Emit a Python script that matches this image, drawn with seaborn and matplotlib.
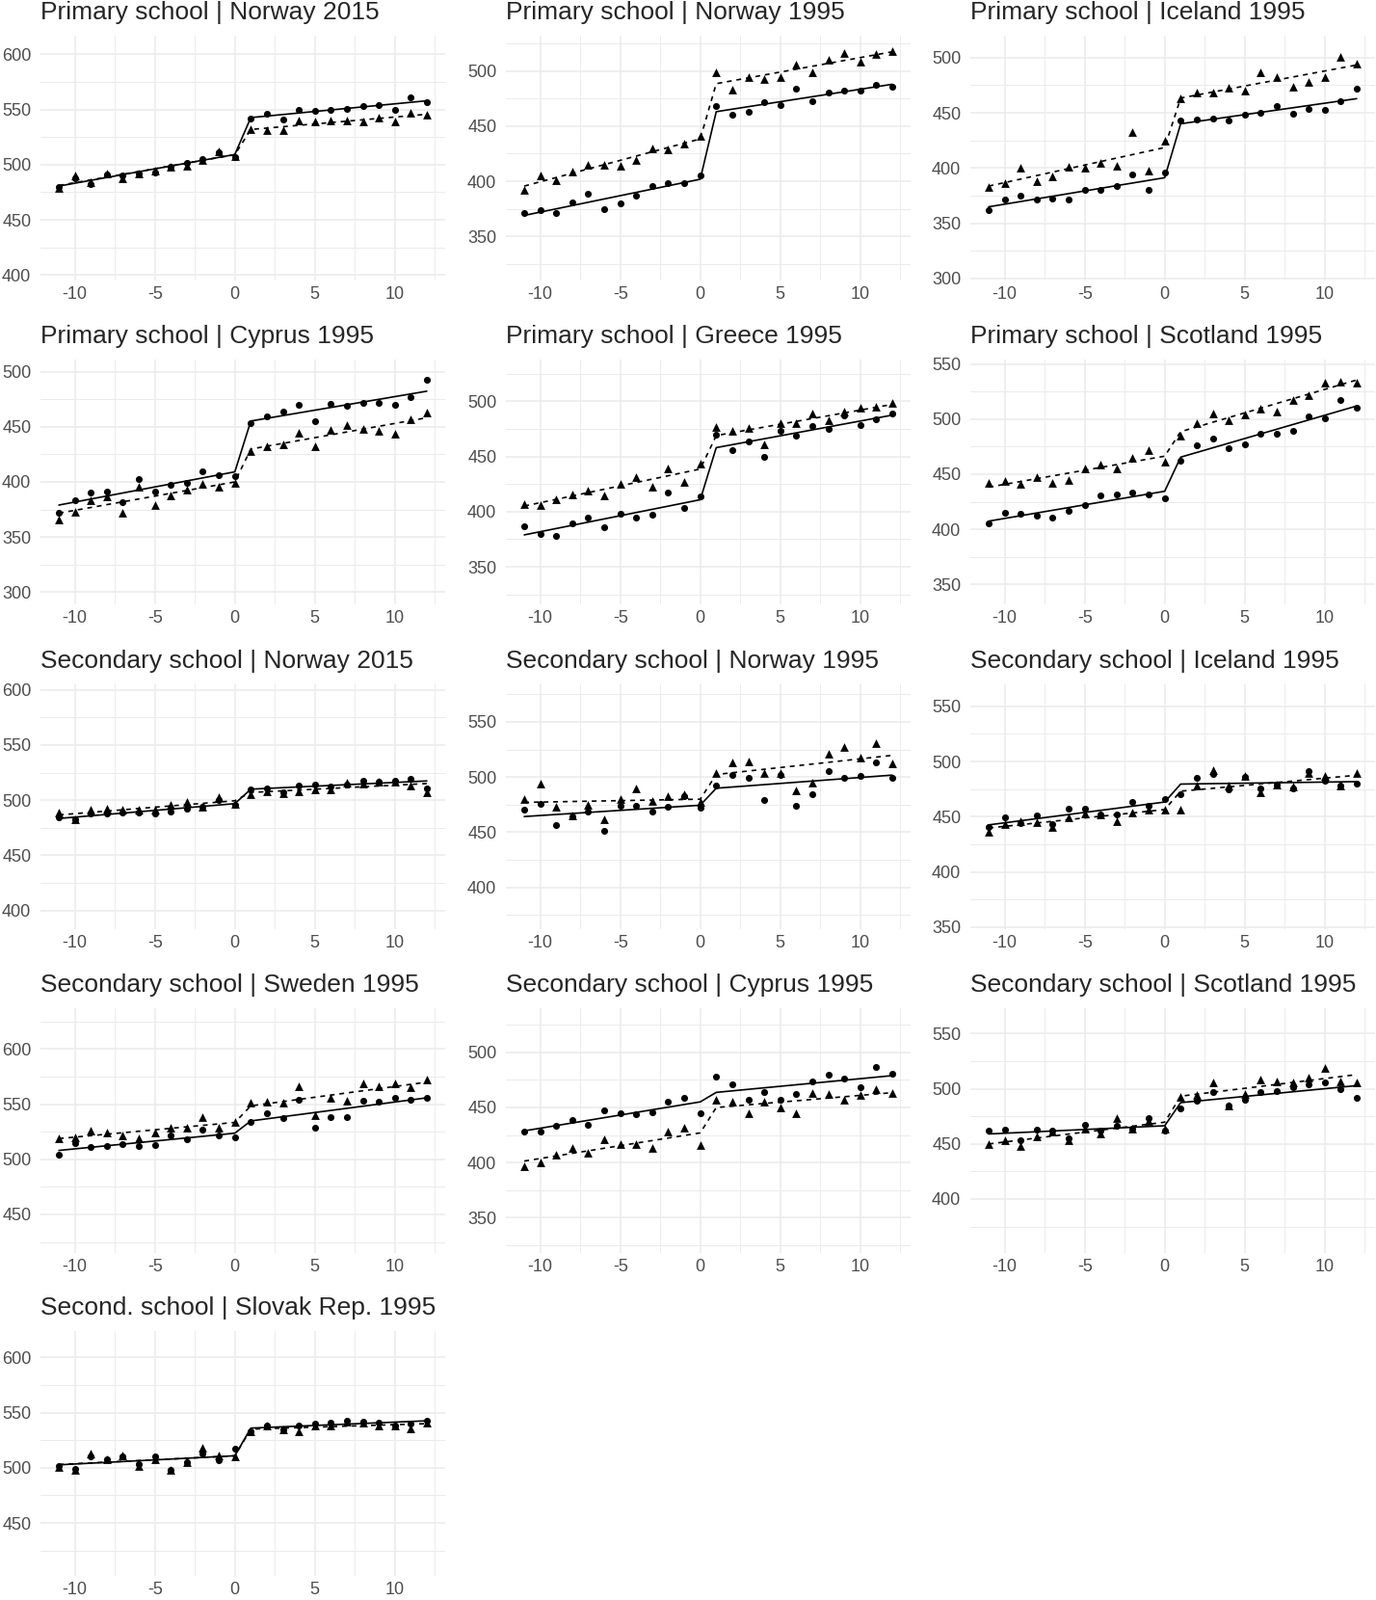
import numpy as np
import pandas as pd
import seaborn as sns
from matplotlib import pyplot as plt
from matplotlib.ticker import MultipleLocator

# running variable (distance to cutoff)
x_vals = list(range(-11, 13))

# circle series (solid fit) and triangle series (dashed fit), one pair per panel
pri_nor15_circ = [480, 488, 482, 491, 490, 492, 493, 498, 502, 505, 511, 507, 542, 546, 541, 550, 549, 550, 551, 553, 554, 550, 561, 557]
pri_nor15_tri = [479, 490, 484, 492, 488, 492, 495, 498, 499, 504, 512, 508, 532, 531, 531, 540, 539, 540, 540, 539, 543, 539, 547, 545]

pri_nor95_circ = [371, 374, 371, 381, 389, 375, 380, 387, 396, 398, 398, 405, 468, 460, 463, 472, 469, 484, 473, 480, 482, 482, 487, 486]
pri_nor95_tri = [392, 405, 401, 409, 415, 415, 414, 419, 430, 429, 434, 441, 499, 483, 494, 493, 494, 506, 499, 510, 516, 508, 515, 518]

pri_ice95_circ = [362, 371, 375, 371, 372, 371, 380, 380, 384, 394, 380, 396, 443, 444, 445, 443, 448, 450, 456, 449, 454, 453, 461, 472]
pri_ice95_tri = [383, 386, 400, 388, 392, 401, 400, 405, 402, 433, 398, 425, 463, 468, 468, 473, 470, 487, 482, 474, 478, 482, 501, 495]

pri_cyp95_circ = [372, 383, 390, 391, 382, 403, 391, 397, 399, 410, 406, 405, 453, 459, 464, 470, 455, 471, 469, 472, 472, 470, 477, 493]
pri_cyp95_tri = [366, 373, 383, 387, 372, 396, 379, 388, 393, 398, 396, 399, 428, 432, 434, 445, 432, 447, 452, 448, 446, 444, 457, 463]

pri_gre95_circ = [387, 380, 378, 389, 395, 386, 398, 395, 397, 417, 403, 414, 470, 456, 464, 450, 473, 469, 478, 475, 487, 479, 484, 489]
pri_gre95_tri = [407, 406, 411, 416, 419, 415, 425, 431, 423, 439, 427, 444, 477, 473, 476, 461, 480, 480, 489, 483, 491, 494, 495, 499]

pri_sco95_circ = [405, 415, 414, 412, 411, 417, 422, 431, 432, 433, 432, 428, 462, 476, 482, 474, 477, 487, 487, 489, 502, 501, 517, 510]
pri_sco95_tri = [442, 444, 441, 447, 442, 445, 455, 459, 455, 465, 472, 461, 485, 496, 505, 499, 504, 509, 507, 517, 522, 533, 534, 533]

sec_nor15_circ = [484, 483, 488, 488, 489, 489, 488, 490, 492, 494, 500, 496, 510, 511, 507, 513, 514, 512, 514, 518, 517, 518, 519, 511]
sec_nor15_tri = [489, 483, 491, 492, 491, 491, 491, 496, 498, 494, 503, 497, 505, 508, 506, 508, 510, 510, 516, 515, 517, 517, 513, 507]

sec_nor95_circ = [470, 476, 456, 464, 469, 451, 474, 474, 469, 473, 483, 472, 492, 502, 499, 479, 502, 474, 484, 505, 499, 501, 513, 499]
sec_nor95_tri = [480, 494, 473, 465, 475, 462, 480, 490, 478, 483, 484, 477, 504, 513, 514, 504, 504, 488, 495, 521, 527, 518, 531, 512]

sec_ice95_circ = [441, 449, 444, 451, 443, 457, 457, 452, 452, 463, 460, 466, 470, 485, 489, 475, 486, 476, 479, 476, 491, 483, 478, 480]
sec_ice95_tri = [436, 443, 446, 445, 441, 449, 453, 452, 446, 454, 456, 456, 456, 478, 492, 478, 487, 472, 479, 477, 490, 487, 478, 490]

sec_swe95_circ = [504, 515, 511, 512, 514, 512, 513, 522, 518, 527, 522, 520, 534, 542, 537, 554, 529, 538, 538, 553, 552, 556, 554, 556]
sec_swe95_tri = [519, 520, 526, 524, 522, 519, 524, 529, 529, 538, 529, 534, 551, 552, 551, 566, 540, 556, 553, 569, 566, 569, 565, 572]

sec_cyp95_circ = [428, 428, 433, 439, 434, 447, 445, 444, 446, 455, 459, 445, 478, 471, 457, 464, 457, 462, 474, 480, 476, 468, 487, 481]
sec_cyp95_tri = [397, 400, 407, 413, 409, 421, 417, 417, 413, 428, 432, 416, 457, 455, 445, 455, 450, 445, 463, 462, 457, 461, 467, 463]

sec_sco95_circ = [462, 463, 453, 463, 462, 455, 467, 462, 466, 464, 473, 462, 482, 489, 497, 485, 490, 497, 498, 501, 504, 506, 500, 492]
sec_sco95_tri = [450, 453, 448, 457, 461, 453, 464, 459, 473, 464, 471, 464, 493, 494, 506, 485, 495, 508, 507, 506, 510, 519, 507, 506]

sec_svk95_circ = [502, 499, 510, 508, 510, 503, 510, 498, 505, 513, 507, 517, 533, 538, 535, 538, 540, 541, 543, 542, 541, 538, 540, 543]
sec_svk95_tri = [501, 498, 513, 508, 511, 502, 508, 498, 505, 518, 511, 510, 533, 538, 535, 533, 538, 538, 542, 541, 538, 538, 536, 541]

titles = [
    'Primary school | Norway 2015', 'Primary school | Norway 1995', 'Primary school | Iceland 1995',
    'Primary school | Cyprus 1995', 'Primary school | Greece 1995', 'Primary school | Scotland 1995',
    'Secondary school | Norway 2015', 'Secondary school | Norway 1995', 'Secondary school | Iceland 1995',
    'Secondary school | Sweden 1995', 'Secondary school | Cyprus 1995', 'Secondary school | Scotland 1995',
    'Second. school | Slovak Rep. 1995',
]
y_tops = [617, 532, 520, 511, 538, 554, 605, 584, 570, 637, 540, 573, 624]

series = [
    (pri_nor15_circ, pri_nor15_tri), (pri_nor95_circ, pri_nor95_tri), (pri_ice95_circ, pri_ice95_tri),
    (pri_cyp95_circ, pri_cyp95_tri), (pri_gre95_circ, pri_gre95_tri), (pri_sco95_circ, pri_sco95_tri),
    (sec_nor15_circ, sec_nor15_tri), (sec_nor95_circ, sec_nor95_tri), (sec_ice95_circ, sec_ice95_tri),
    (sec_swe95_circ, sec_swe95_tri), (sec_cyp95_circ, sec_cyp95_tri), (sec_sco95_circ, sec_sco95_tri),
    (sec_svk95_circ, sec_svk95_tri),
]


def rd_fit(y):
    # separate linear fit on each side of the cutoff
    xs = np.array(x_vals)
    y = np.asarray(y, float)
    fit = np.empty_like(y)
    for m in (xs <= 0, xs > 0):
        b = np.polyfit(xs[m], y[m], 1)
        fit[m] = np.polyval(b, xs[m])
    return fit


def draw_panel(ax, title, circ, tri, top):
    sns.scatterplot(x=x_vals, y=circ, marker='o', s=26, color='black',
                    linewidth=0, ax=ax, zorder=3)
    sns.scatterplot(x=x_vals, y=tri, marker='^', s=40, color='black',
                    linewidth=0, ax=ax, zorder=3)
    sns.lineplot(x=x_vals, y=rd_fit(circ), color='black', lw=1.2,
                 estimator=None, sort=False, ax=ax, zorder=4)
    sns.lineplot(x=x_vals, y=rd_fit(tri), color='black', lw=1.2,
                 linestyle=(0, (3, 3)), estimator=None, sort=False, ax=ax, zorder=4)

    ax.set_xlim(-12.15, 13.15)
    ax.set_ylim(top - 222, top)
    ax.xaxis.set_major_locator(MultipleLocator(5))
    ax.xaxis.set_minor_locator(MultipleLocator(2.5))
    ax.yaxis.set_major_locator(MultipleLocator(50))
    ax.yaxis.set_minor_locator(MultipleLocator(25))
    ax.grid(which='major', color='#EBEBEB', lw=1.1)
    ax.grid(which='minor', color='#EBEBEB', lw=0.7)
    ax.set_axisbelow(True)
    ax.tick_params(which='both', length=0, labelsize=13, labelcolor='#4D4D4D')
    ax.tick_params(axis='y', pad=7)
    ax.tick_params(axis='x', pad=4)
    for sp in ax.spines.values():
        sp.set_visible(False)
    ax.set_xlabel('')
    ax.set_ylabel('')
    ax.set_title(title, loc='left', fontsize=19, pad=12)


sns.set_theme(style='white')
plt.rcParams['font.family'] = ['Liberation Sans', 'DejaVu Sans']
plt.rcParams['axes.unicode_minus'] = False

W, H = 1428, 1660
fig = plt.figure(figsize=(W / 100, H / 100), dpi=100)
col_left = [42, 525, 1007]
row_top = [37, 373, 710, 1046, 1381]
pw, ph = 420, 254

for i, (title, (circ, tri), top) in enumerate(zip(titles, series, y_tops)):
    r, c = divmod(i, 3)
    ax = fig.add_axes([col_left[c] / W, 1 - (row_top[r] + ph) / H, pw / W, ph / H])
    draw_panel(ax, title, circ, tri, top)

fig.savefig('out.png', dpi=100, facecolor='white')
